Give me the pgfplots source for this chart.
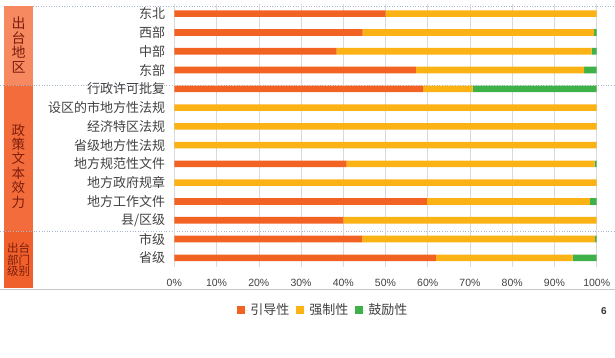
\documentclass[border=0pt]{standalone}
\usepackage{pgfplots}
\usepackage{pgfplotstable}
\pgfplotsset{compat=1.18}
\usepackage{fontspec}
\setmainfont{Noto Sans CJK SC}
\newfontfamily\tickfont{Liberation Sans}
\definecolor{cOr}{RGB}{242,98,34}
\definecolor{cYe}{RGB}{250,178,20}
\definecolor{cGr}{RGB}{62,178,72}
\definecolor{boxa}{RGB}{246,137,96}
\definecolor{boxb}{RGB}{243,108,60}
\definecolor{boxc}{RGB}{240,96,44}
\definecolor{boxtxt}{RGB}{125,30,12}
\definecolor{sep}{RGB}{170,185,205}
\definecolor{lbl}{RGB}{64,64,64}

\pgfplotstableread{
k or ye gr
1 50.0 50.0 0
2 44.6 54.8 0.6
3 38.4 60.4 1.2
4 57.2 39.8 3.0
5 58.9 11.7 29.4
6 0 100 0
7 0 100 0
8 0 100 0
9 40.8 58.7 0.5
10 0 100 0
11 59.8 38.6 1.6
12 40.0 60.0 0
13 44.4 55.2 0.4
14 61.9 32.4 5.7
}\data

\begin{document}
\begin{tikzpicture}[x=1pt,y=1pt]
\useasboundingbox (0,0) rectangle (615,-358);
% group boxes
\fill[boxa] (4,-6) rectangle (33,-85);
\fill[boxb] (4,-85) rectangle (33,-231);
\fill[boxc] (4,-231) rectangle (33,-288);
\node[text=boxtxt, font=\fontsize{14}{14.7}\selectfont, align=center, inner sep=0] at (18.5,-45) {出\\台\\地\\区};
\node[text=boxtxt, font=\fontsize{13.5}{14.4}\selectfont, align=center, inner sep=0] at (18.5,-166) {政\\策\\文\\本\\效\\力};
\node[text=boxtxt, font=\fontsize{11.5}{10.5}\selectfont, align=center, inner sep=0] at (18.5,-260) {出台\\部门\\级别};
% separators
\draw[sep, dotted, line width=0.6pt] (33,-6) -- (615,-6);
\draw[sep, dotted, line width=0.6pt] (0,-85) -- (615,-85);
\draw[sep, dotted, line width=0.6pt] (0,-231) -- (615,-231);
\draw[black!22, line width=0.6pt] (0,-289) -- (615,-289);
\begin{axis}[
  at={(174.3pt,-267.2pt)}, anchor=south west,
  scale only axis, width=422.4pt, height=262.9pt,
  xbar stacked, bar width=6.6pt,
  xmin=0, xmax=100, ymin=-14.5, ymax=-0.5,
  axis line style={draw=none},
  major tick length=0pt,
  xtick={0,10,...,100},
  xticklabels={0\%,10\%,20\%,30\%,40\%,50\%,60\%,70\%,80\%,90\%,100\%},
  xticklabel style={font=\tickfont\fontsize{10.5}{12}\selectfont, text=lbl, anchor=center, yshift=-15.8pt},
  ytick={-1,-2,...,-14},
  yticklabels={东北,西部,中部,东部,行政许可批复,设区的市地方性法规,经济特区法规,省级地方性法规,地方规范性文件,地方政府规章,地方工作文件,县/区级,市级,省级},
  yticklabel style={font=\fontsize{13}{14}\selectfont, text=lbl, anchor=east, inner sep=0pt, xshift=-9pt},
  xmajorgrids, ymajorgrids=false,
  grid style={black!15, line width=0.5pt},
  legend columns=-1,
  legend style={at={(axis description cs:0.3532,-0.1628)}, anchor=center, draw=none, fill=none,
    font=\fontsize{13}{14}\selectfont, text=lbl,
    /tikz/every even column/.append style={column sep=5pt}},
  legend image code/.code={\path (0pt,0pt) -- (11pt,0pt); \fill[#1] (0pt,-3.8pt) rectangle (7.6pt,3.8pt);},
]
\addplot[fill=cOr, draw=none] table[x=or, y expr=-\thisrow{k}] {\data};
\addplot[fill=cYe, draw=none] table[x=ye, y expr=-\thisrow{k}] {\data};
\addplot[fill=cGr, draw=none] table[x=gr, y expr=-\thisrow{k}] {\data};
\legend{引导性,强制性,鼓励性}
\end{axis}
\node[font=\tickfont\bfseries\fontsize{10}{12}\selectfont, text=black!80] at (604,-311) {6};
\end{tikzpicture}
\end{document}
